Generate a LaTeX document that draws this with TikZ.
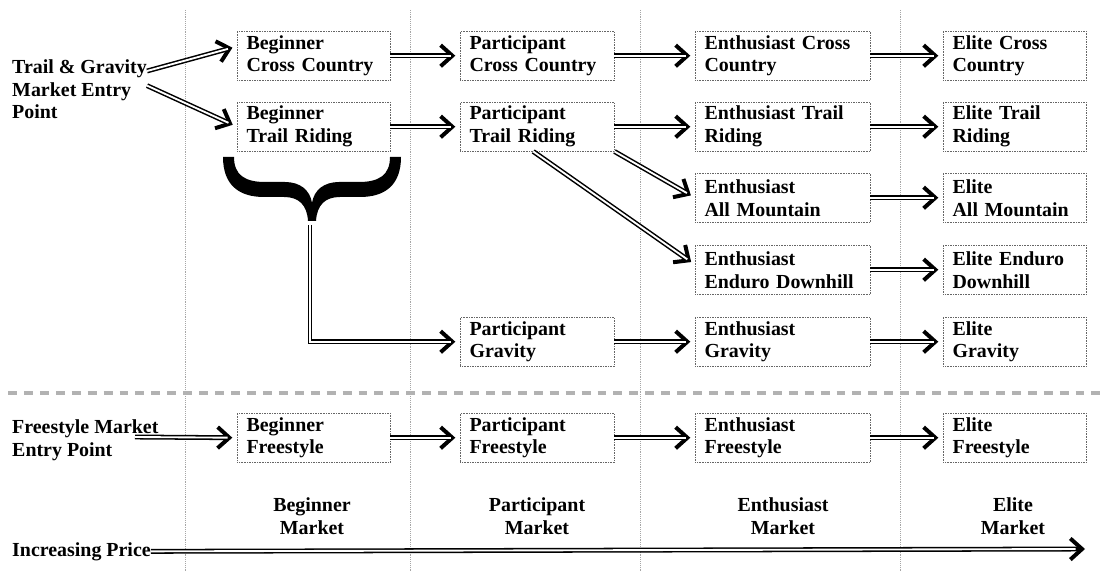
\documentclass[tikz,border=0pt]{standalone}
\usepackage{fontspec}
\setmainfont{Liberation Serif}
\usetikzlibrary{arrows.meta}

\tikzset{
  box/.style={draw=black!60, densely dotted, anchor=north west, minimum height=1.47cm,
    inner xsep=0.28cm, inner ysep=1pt, align=left, text width=#1},
  conn/.style={line width=4.2pt, shorten >=4pt,
    -{Straight Barb[length=10pt,width=18pt,line width=3.4pt]},
    postaction={draw=white, line width=1.6pt, -, shorten >=8pt}},
  lbl/.style={inner sep=0pt, align=left, anchor=north west},
  mkt/.style={inner sep=0pt, align=center},
  grid/.style={black!35, densely dotted, line width=0.6pt},
}

\begin{document}
\begin{tikzpicture}[x=0.03cm, y=-0.03cm,
  every node/.style={font=\fontsize{17}{19.6}\selectfont\bfseries}]
	\useasboundingbox (0,0) rectangle (1101,572);

	%market columns
	\foreach \gx in {185,410,640,900}
	  \draw[grid] (\gx,10) -- (\gx,572);

	%divider
	\draw[black!30, line width=4.2pt, dash pattern=on 7.6pt off 6pt] (8,393) -- (1101,393);

	%entry points
	\node[lbl] (tg) at (12,59) {Trail \& Gravity\\Market Entry\\Point};
	\node[lbl] (fs) at (12,419) {Freestyle Market\\Entry Point};
	\node[lbl] (price) at (12,542) {Increasing Price};

	%beginner
	\node[box=4.03cm] (bcc) at (237,31) {Beginner\\Cross Country};
	\node[box=4.03cm] (btr) at (237,102) {Beginner\\Trail Riding};
	\node[box=4.03cm] (bfs) at (237,413) {Beginner\\Freestyle};

	%participant
	\node[box=4.06cm] (pcc) at (460,31) {Participant\\Cross Country};
	\node[box=4.06cm] (ptr) at (460,102) {Participant\\Trail Riding};
	\node[box=4.06cm] (pgr) at (460,317) {Participant\\Gravity};
	\node[box=4.06cm] (pfs) at (460,413) {Participant\\Freestyle};

	%enthusiast
	\node[box=4.69cm] (ecc) at (695,31) {Enthusiast Cross\\Country};
	\node[box=4.69cm] (etr) at (695,102) {Enthusiast Trail\\Riding};
	\node[box=4.69cm] (eam) at (695,173) {Enthusiast\\All Mountain};
	\node[box=4.69cm] (eed) at (695,245) {Enthusiast\\Enduro Downhill};
	\node[box=4.69cm] (egr) at (695,317) {Enthusiast\\Gravity};
	\node[box=4.69cm] (efs) at (695,413) {Enthusiast\\Freestyle};

	%elite
	\node[box=3.73cm] (lcc) at (943,31) {Elite Cross\\Country};
	\node[box=3.73cm] (ltr) at (943,102) {Elite Trail\\Riding};
	\node[box=3.73cm] (lam) at (943,173) {Elite\\All Mountain};
	\node[box=3.73cm] (led) at (943,245) {Elite Enduro\\Downhill};
	\node[box=3.73cm] (lgr) at (943,317) {Elite\\Gravity};
	\node[box=3.73cm] (lfs) at (943,413) {Elite\\Freestyle};

	%market names
	\node[mkt] (mb) at (312,516) {Beginner\\Market};
	\node[mkt] (mp) at (537,516) {Participant\\Market};
	\node[mkt] (me) at (783,516) {Enthusiast\\Market};
	\node[mkt] (ml) at (1013,516) {Elite\\Market};

	%arrows
	\draw[conn] ([yshift=-0.36cm]tg.north east) -- ([yshift=0.28cm]bcc.west);
	\draw[conn] ([yshift=-0.8cm]tg.north east) -- (btr.west);
	\foreach \a/\b in {bcc/pcc, pcc/ecc, ecc/lcc, btr/ptr, ptr/etr, etr/ltr, eam/lam,
	  eed/led, pgr/egr, egr/lgr, bfs/pfs, pfs/efs, efs/lfs}
	  \draw[conn] (\a.east) -- (\b.west);
	\draw[conn] (ptr.south east) -- (eam.west);
	\draw[conn] ([xshift=-0.12cm]ptr.south) -- ([yshift=0.15cm]eed.west);

	%brace to gravity
	\fill (223,157) -- (234,157) .. controls (234,175) and (245,182) .. (265,182)
	  -- (285,182) .. controls (300,182) and (310,190) .. (312,203)
	  .. controls (314,190) and (324,182) .. (339,182) -- (359,182)
	  .. controls (379,182) and (390,175) .. (390,157) -- (401,157)
	  .. controls (401,185) and (385,197) .. (360,197) -- (340,197)
	  .. controls (325,197) and (317,205) .. (316,221) -- (308,221)
	  .. controls (307,205) and (299,197) .. (284,197) -- (264,197)
	  .. controls (239,197) and (223,185) .. (223,157) -- cycle;
	\coordinate (brtip) at (310,225);
	\draw[conn] (brtip) |- (pgr.west);

	\coordinate (fsout) at (135,437);
	\draw[conn] (fsout) -- (bfs.west);

	\coordinate (pend) at (1085,549);
	\draw[conn, shorten >=0pt] (price.east) -- (pend);
\end{tikzpicture}
\end{document}
